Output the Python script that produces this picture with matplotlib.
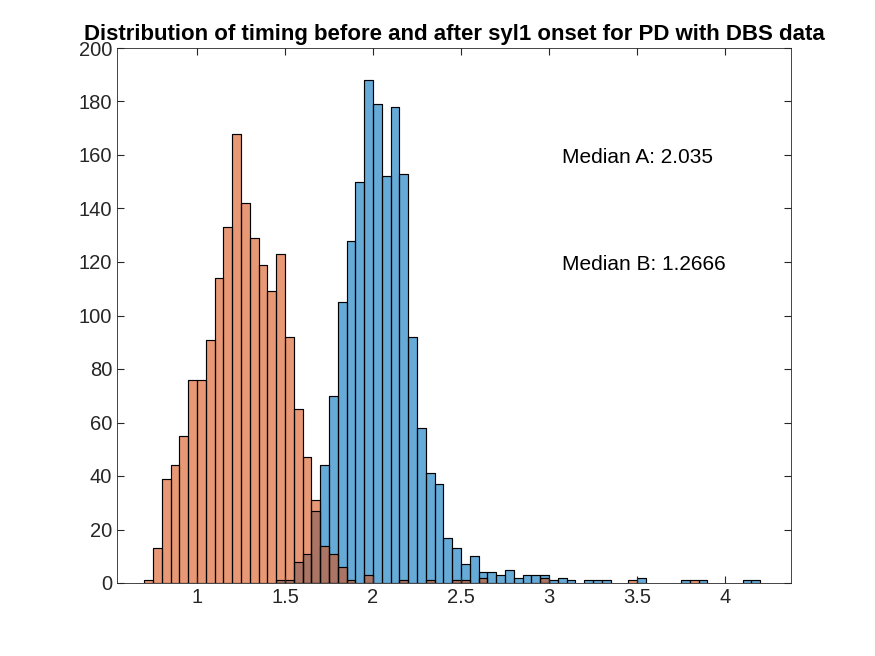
import numpy as np
import matplotlib
matplotlib.use("Agg")
import matplotlib.pyplot as plt

plt.rcParams['font.family'] = ['Liberation Sans', 'DejaVu Sans']

# histogram data (bin width 0.05)
bin_width = 0.05
# A (blue): bin left edges and counts
a_edges = [1.45, 1.50, 1.55, 1.60, 1.65, 1.70, 1.75, 1.80, 1.85, 1.90, 1.95, 2.00, 2.05, 2.10,
           2.15, 2.20, 2.25, 2.30, 2.35, 2.40, 2.45, 2.50, 2.55, 2.60, 2.65, 2.70, 2.75, 2.80,
           2.85, 2.90, 2.95, 3.00, 3.05, 3.10, 3.20, 3.25, 3.30, 3.50, 3.75, 3.85, 4.10, 4.15]
a_counts = [1, 1, 8, 11, 27, 44, 70, 105, 128, 150, 188, 179, 152, 178,
            153, 92, 58, 41, 37, 17, 13, 7, 10, 4, 4, 3, 5, 2,
            3, 3, 3, 1, 2, 1, 1, 1, 1, 2, 1, 1, 1, 1]
# B (orange)
b_edges = [0.70, 0.75, 0.80, 0.85, 0.90, 0.95, 1.00, 1.05, 1.10, 1.15, 1.20, 1.25, 1.30, 1.35,
           1.40, 1.45, 1.50, 1.55, 1.60, 1.65, 1.70, 1.75, 1.80, 1.85, 1.95, 2.15, 2.30, 2.45,
           2.50, 2.60, 2.95, 3.45, 3.80]
b_counts = [1, 13, 39, 44, 55, 76, 76, 91, 114, 133, 168, 142, 129, 119,
            109, 123, 92, 65, 47, 31, 14, 11, 6, 1, 3, 1, 1, 1,
            1, 2, 2, 1, 1]

median_a = 2.035
median_b = 1.2666

fig, ax = plt.subplots(figsize=(8.75, 6.56), dpi=100)
fig.subplots_adjust(left=117/875, right=791/875, top=1-48/656, bottom=1-583/656)

ax.bar(a_edges, a_counts, width=bin_width, align='edge', color='#0072BD', alpha=0.6,
       edgecolor='black', linewidth=0.8)
ax.bar(b_edges, b_counts, width=bin_width, align='edge', color='#D95319', alpha=0.6,
       edgecolor='black', linewidth=0.8)
# redraw edges fully opaque
ax.bar(a_edges, a_counts, width=bin_width, align='edge', fill=False, edgecolor='black', linewidth=0.8)
ax.bar(b_edges, b_counts, width=bin_width, align='edge', fill=False, edgecolor='black', linewidth=0.8)

ax.set_xlim(0.545, 4.375)
ax.set_ylim(0, 200)
ax.set_xticks([1, 1.5, 2, 2.5, 3, 3.5, 4])
ax.set_xticklabels(['1', '1.5', '2', '2.5', '3', '3.5', '4'])
ax.set_yticks(np.arange(0, 201, 20))
ax.tick_params(direction='in', labelsize=14.5, colors='#262626', top=True, right=True, length=5)
for s in ax.spines.values():
    s.set_color('#262626')
    s.set_linewidth(0.6)

ax.text(3.074, 159, 'Median A: ' + str(median_a), fontsize=15, va='center')
ax.text(3.074, 119, 'Median B: ' + str(median_b), fontsize=15, va='center')
ax.set_title('Distribution of timing before and after syl1 onset for PD with DBS data',
             fontsize=16, fontweight='bold', pad=6)

fig.savefig('out.png')
